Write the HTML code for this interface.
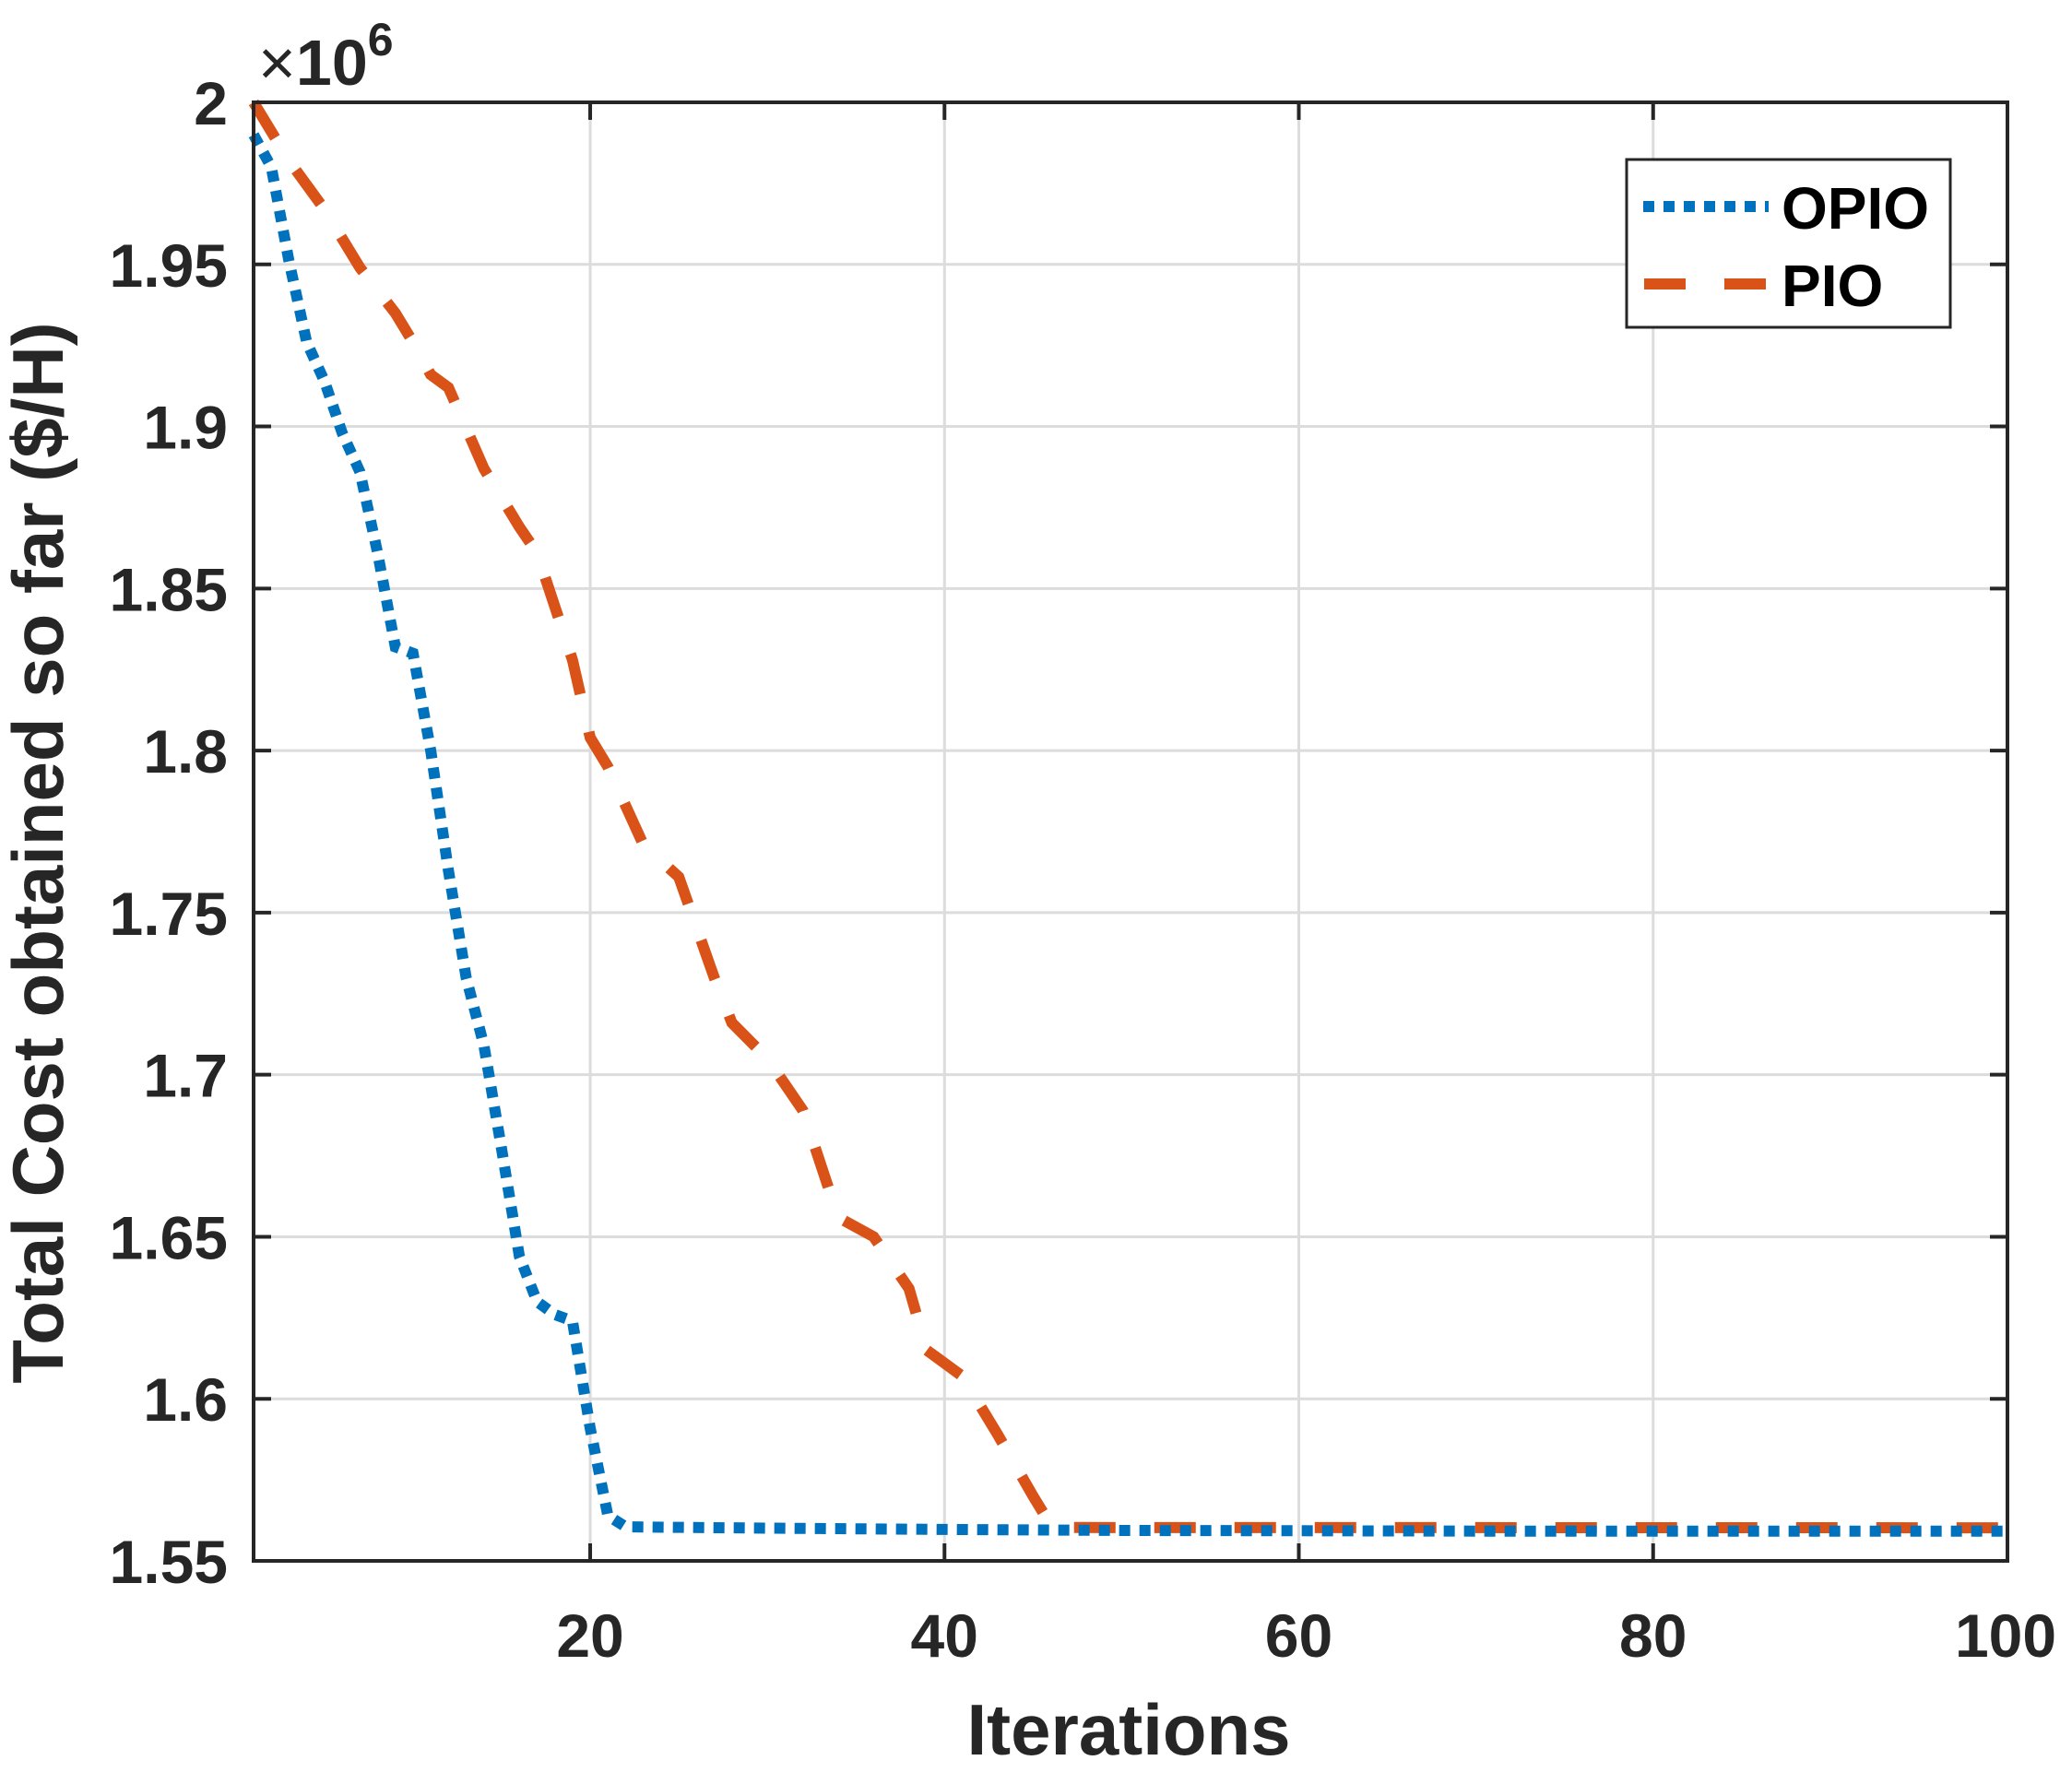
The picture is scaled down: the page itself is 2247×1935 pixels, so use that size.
<!DOCTYPE html>
<html><head><meta charset="utf-8"><style>
html,body{margin:0;padding:0;background:#fff;}
svg text{font-family:"Liberation Sans",Arial,sans-serif;font-weight:bold;fill:#262626;}
</style></head><body>
<svg id="chart" width="2247" height="1930" viewBox="0 0 2247 1930" xmlns="http://www.w3.org/2000/svg">
<g id="grid"></g>
<g id="series"></g>
<rect x="275" y="111" width="1902" height="1582" fill="none" stroke="#262626" stroke-width="4"/>
<g id="ticks"></g>
<text x="280" y="92" font-size="70"><tspan font-weight="normal">×</tspan>10<tspan dy="-32" font-size="50">6</tspan></text>
<text x="1224" y="1903" font-size="78" text-anchor="middle">Iterations</text>
<text transform="translate(68,925) rotate(-90)" font-size="78" text-anchor="middle">Total Cost obtained so far ($/H)</text>
<g>
<rect x="1764" y="173" width="351" height="182" fill="#fff" stroke="#262626" stroke-width="3"/>
<line x1="1782" y1="224" x2="1918" y2="224" stroke="#0072BD" stroke-width="12" stroke-dasharray="12 10"/>
<text x="1932" y="248" font-size="64" style="fill:#000">OPIO</text>
<line x1="1783" y1="308" x2="1916" y2="308" stroke="#D95319" stroke-width="12" stroke-dasharray="45 42"/>
<text x="1932" y="332" font-size="64" style="fill:#000">PIO</text>
</g>
</svg>
<script>
const xTicks=[20,40,60,80,100];
const yTicks=[1.55,1.6,1.65,1.7,1.75,1.8,1.85,1.9,1.95,2];
const yTickLabels=["1.55","1.6","1.65","1.7","1.75","1.8","1.85","1.9","1.95","2"];
const opioX=[1,2,3,4,5,6,7,8,9,10,11,12,13,14,15,16,17,18,19,20,21,22,30,40,50,60,70,80,90,100];
const opioY=[1.99,1.98,1.951,1.926,1.914,1.898,1.886,1.861,1.832,1.830,1.800,1.763,1.730,1.709,1.677,1.644,1.630,1.626,1.624,1.591,1.564,1.5605,1.5601,1.5597,1.5594,1.5593,1.5592,1.5592,1.5592,1.5592];
const pioX=[1,3,5,7,9,10,11,12,14,16,17,19,20,21,23,25,27,28,30,32,34,36,38,39,41,43,45,46,47,100];
const pioY=[2.0,1.982,1.967,1.949,1.935,1.926,1.916,1.912,1.887,1.869,1.861,1.828,1.804,1.795,1.771,1.761,1.730,1.716,1.705,1.689,1.656,1.650,1.634,1.615,1.607,1.589,1.570,1.561,1.5603,1.5602];
const L=275,R=2177,T=111,B=1693,xmin=1,xmax=100,ymin=1.55,ymax=2;
function X(v){return L+(v-xmin)/(xmax-xmin)*(R-L);}
function Y(v){return B-(v-ymin)/(ymax-ymin)*(B-T);}
const NS="http://www.w3.org/2000/svg";
const grid=document.getElementById('grid'),ticks=document.getElementById('ticks'),series=document.getElementById('series');
function mk(tag,attrs,parent){const e=document.createElementNS(NS,tag);for(const k in attrs)e.setAttribute(k,attrs[k]);parent.appendChild(e);return e;}
xTicks.forEach(t=>{
  const x=X(t);
  const g=mk('line',{x1:x,y1:T,x2:x,y2:B,stroke:'#dcdcdc','stroke-width':3},grid);
  
  
  const a=mk('line',{x1:x,y1:B,x2:x,y2:B-19,stroke:'#262626','stroke-width':4},ticks);
  
  
  const b=mk('line',{x1:x,y1:T,x2:x,y2:T+19,stroke:'#262626','stroke-width':4},ticks);
  
  
  const tx=mk('text',{x:t===100?x-2:x,y:1797,'font-size':66,'text-anchor':'middle'},ticks);
  tx.textContent=String(t);
  
  
});
yTicks.forEach((t,i)=>{
  const y=Y(t);
  const g=mk('line',{x1:L,y1:y,x2:R,y2:y,stroke:'#dcdcdc','stroke-width':3},grid);
  
  
  const a=mk('line',{x1:L,y1:y,x2:L+19,y2:y,stroke:'#262626','stroke-width':4},ticks);
  
  
  const b=mk('line',{x1:R,y1:y,x2:R-19,y2:y,stroke:'#262626','stroke-width':4},ticks);
  
  
  const tx=mk('text',{x:247,y:y+24,'font-size':66,'text-anchor':'end'},ticks);
  tx.textContent=yTickLabels[i];
  
  
});
function path(xs,ys){return xs.map((v,i)=>(i?'L':'M')+X(v).toFixed(1)+' '+Y(ys[i]).toFixed(1)).join(' ');}
const p1=mk('path',{d:path(pioX,pioY),fill:'none',stroke:'#D95319','stroke-width':12,'stroke-dasharray':'45 42'},series);


const p2=mk('path',{d:path(opioX,opioY),fill:'none',stroke:'#0072BD','stroke-width':12,'stroke-dasharray':'12 10'},series);


</script>
</body></html>
